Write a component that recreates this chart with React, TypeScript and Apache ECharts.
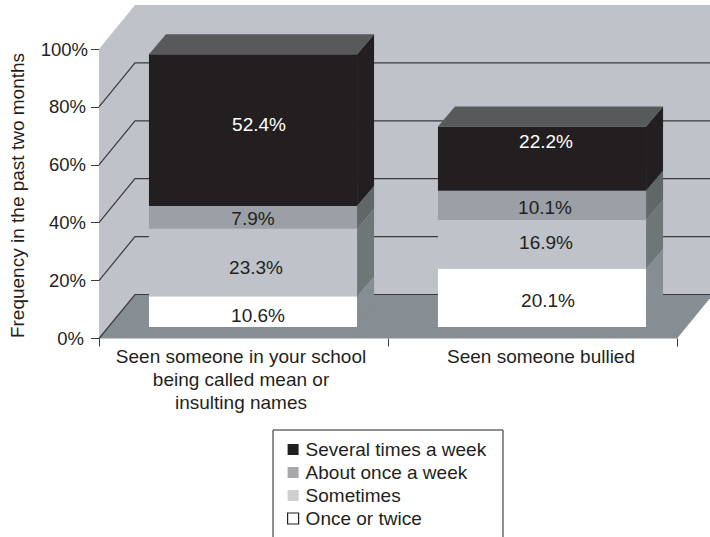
import React, { useEffect, useRef } from "react";
import * as echarts from "echarts";

const categories = [
  "Seen someone in your school\nbeing called mean or\ninsulting names",
  "Seen someone bullied",
];
const onceOrTwice = [10.6, 20.1];
const sometimes = [23.3, 16.9];
const aboutOnceAWeek = [7.9, 10.1];
const severalTimesAWeek = [52.4, 22.2];
const yTicks = [0, 20, 40, 60, 80, 100];
const seriesNames = ["Several times a week", "About once a week", "Sometimes", "Once or twice"];

// drawing style
const FONT = "Liberation Sans";
const INK = "#231f20";
const WALL = "#bfc2c9";
const FLOOR = "#868d93";
const GRID_LINE = "#3a3a3c";
const DEPTH_X = 36;
const DEPTH_Y = 44;
const BAR_FRONT_X = 9.5;
const BAR_FRONT_Y = 11.5;
const BAR_DEPTH_X = 17;
const BAR_DEPTH_Y = 20;
const BAR_SHARE = 0.72;

type Seg = { name: string; values: number[]; front: string; side: string; text: string; labelShift: number[][] };
const segments: Seg[] = [
  { name: "Once or twice", values: onceOrTwice, front: "#ffffff", side: "#868d93", text: INK, labelShift: [[5, 4], [6, 3]] },
  { name: "Sometimes", values: sometimes, front: "#bfc2c9", side: "#6e7678", text: INK, labelShift: [[3, 5], [4, -2]] },
  { name: "About once a week", values: aboutOnceAWeek, front: "#9aa0a5", side: "#5f6769", text: INK, labelShift: [[0, 1], [3, 2]] },
  { name: "Several times a week", values: severalTimesAWeek, front: INK, side: INK, text: "#ffffff", labelShift: [[6, -6], [4, -17]] },
];

const legendStyle: Record<string, any> = {
  "Several times a week": { color: INK },
  "About once a week": { color: "#a6a8ab" },
  Sometimes: { color: "#cdcfd2" },
  "Once or twice": { color: "#ffffff", borderColor: INK, borderWidth: 1.2 },
};

function buildOption() {
  const running = categories.map(() => 0);
  const barSeries = segments.map((seg, segIndex) => {
    const data = seg.values.map((v, i) => {
      const base = running[i];
      running[i] += v;
      return [i, base, running[i], v];
    });
    return {
      type: "custom",
      name: seg.name,
      z: 3 + segIndex,
      clip: false,
      encode: { x: 0, y: [1, 2] },
      itemStyle: { color: seg.front },
      data,
      renderItem: (_p: any, api: any) => {
        const cat = api.value(0);
        const low = api.coord([cat, api.value(1)]);
        const high = api.coord([cat, api.value(2)]);
        const width = api.size([1, 0])[0] * BAR_SHARE;
        const l = low[0] + BAR_FRONT_X - width / 2;
        const r = l + width;
        const b = low[1] - BAR_FRONT_Y;
        const t = high[1] - BAR_FRONT_Y;
        const children: any[] = [
          {
            type: "polygon",
            shape: { points: [[r, b], [r + BAR_DEPTH_X, b - BAR_DEPTH_Y], [r + BAR_DEPTH_X, t - BAR_DEPTH_Y], [r, t]] },
            style: { fill: seg.side },
          },
          { type: "rect", shape: { x: l, y: t, width: r - l, height: b - t }, style: { fill: seg.front } },
        ];
        if (segIndex === segments.length - 1) {
          children.push({
            type: "polygon",
            shape: { points: [[l, t], [l + BAR_DEPTH_X, t - BAR_DEPTH_Y], [r + BAR_DEPTH_X, t - BAR_DEPTH_Y], [r, t]] },
            style: { fill: "#58595b" },
          });
        }
        const shift = seg.labelShift[cat];
        children.push({
          type: "text",
          x: (l + r) / 2 + shift[0],
          y: (t + b) / 2 + shift[1],
          style: {
            text: api.value(3).toFixed(1) + "%",
            fill: seg.text,
            font: `19px "${FONT}"`,
            align: "center",
            verticalAlign: "middle",
          },
        });
        return { type: "group", children };
      },
    };
  });

  const wallSeries = {
    type: "custom",
    name: "wall",
    z: 1,
    clip: false,
    silent: true,
    encode: { y: 0 },
    data: yTicks.map((t) => [t]),
    renderItem: (p: any, api: any) => {
      const value = api.value(0);
      const cs = p.coordSys;
      const x0 = cs.x;
      const x1 = cs.x + cs.width;
      const y = api.coord([0, value])[1];
      const children: any[] = [];
      if (p.dataIndex === 0) {
        const top = cs.y;
        const bot = cs.y + cs.height;
        children.push(
          {
            type: "polygon",
            shape: {
              points: [
                [x0, bot],
                [x0, top],
                [x0 + DEPTH_X, top - DEPTH_Y],
                [x1 + DEPTH_X, top - DEPTH_Y],
                [x1 + DEPTH_X, bot - DEPTH_Y],
                [x0 + DEPTH_X, bot - DEPTH_Y],
              ],
            },
            style: { fill: WALL },
          },
          {
            type: "polygon",
            shape: {
              points: [
                [x0, bot],
                [x1, bot],
                [x1 + DEPTH_X, bot - DEPTH_Y],
                [x0 + DEPTH_X, bot - DEPTH_Y],
              ],
            },
            style: { fill: FLOOR },
          }
        );
      }
      if (value < 100) {
        children.push({
          type: "polyline",
          shape: {
            points: [
              [x0, y],
              [x0 + DEPTH_X, y - DEPTH_Y],
              [x1 + DEPTH_X, y - DEPTH_Y],
            ],
          },
          style: { fill: "none", stroke: GRID_LINE, lineWidth: 1.2 },
        });
      }
      return { type: "group", children };
    },
  };

  const tickRich = {
    a: { fontFamily: FONT, fontSize: 18.5, color: INK },
    b: { fontFamily: FONT, fontSize: 18.5, color: INK, padding: [0, 2, 0, 0] },
    c: { fontFamily: FONT, fontSize: 18.5, color: INK, padding: [0, 4, 0, 0] },
  };

  return {
    animation: false,
    backgroundColor: "#ffffff",
    textStyle: { fontFamily: FONT, color: INK },
    grid: { left: 99, right: 33, top: 49, bottom: 198.5, containLabel: false },
    xAxis: {
      type: "category",
      data: [
        { value: categories[0], textStyle: { padding: [0, 5, 0, 0] } },
        { value: categories[1], textStyle: { padding: [0, 0, 0, 17] } },
      ],
      axisLine: { show: false },
      axisTick: { show: true, length: 8, alignWithLabel: false, lineStyle: { color: GRID_LINE, width: 1 } },
      axisLabel: {
        interval: 0,
        margin: 6,
        color: INK,
        fontFamily: FONT,
        fontSize: 19,
        lineHeight: 23,
        align: "center",
      },
      splitLine: { show: false },
    },
    yAxis: {
      type: "value",
      min: 0,
      max: 100,
      interval: 20,
      axisLine: { show: false },
      axisTick: { show: true, length: 8, lineStyle: { color: GRID_LINE, width: 1 } },
      axisLabel: {
        margin: 11,
        color: INK,
        fontFamily: FONT,
        fontSize: 18.5,
        formatter: (v: number) => (v === 100 ? `{a|${v}%}` : v === 0 ? `{c|${v}%}` : `{b|${v}%}`),
        rich: tickRich,
      },
      splitLine: { show: false },
    },
    legend: {
      show: true,
      orient: "vertical",
      left: 287,
      top: 438,
      height: 99,
      selectedMode: false,
      itemWidth: 11,
      itemHeight: 11,
      itemGap: 0,
      padding: 0,
      textStyle: { fontFamily: FONT, fontSize: 19, color: INK, lineHeight: 23, padding: [0, 0, 0, 2] },
      data: seriesNames.map((name) => ({ name, icon: "rect", itemStyle: legendStyle[name] })),
    },
    graphic: [
      {
        type: "text",
        x: 17,
        y: 195.5,
        rotation: Math.PI / 2,
        style: {
          text: "Frequency in the past two months",
          font: `19px "${FONT}"`,
          fill: INK,
          align: "center",
          verticalAlign: "middle",
        },
      },
      {
        type: "rect",
        shape: { x: 273, y: 430, width: 230, height: 120 },
        style: { fill: "none", stroke: INK, lineWidth: 1 },
      },
    ],
    series: [wallSeries, ...barSeries],
  };
}

export default function App() {
  const ref = useRef<HTMLDivElement>(null);
  useEffect(() => {
    document.body.style.margin = "0";
    const chart = echarts.init(ref.current!, undefined, { renderer: "svg" });
    chart.setOption(buildOption() as any);
    return () => chart.dispose();
  }, []);
  return <div ref={ref} style={{ width: 710, height: 537 }} />;
}
